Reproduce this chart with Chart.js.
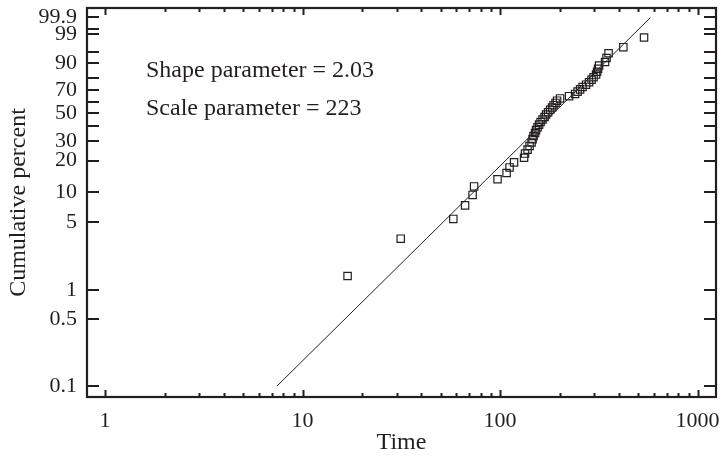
<!DOCTYPE html>
<html><head><meta charset="utf-8">
<script src="https://cdn.jsdelivr.net/npm/chart.js@4/dist/chart.umd.min.js"></script>
<style>html,body{margin:0;padding:0;background:#fff}canvas{display:block}</style>
</head><body>
<canvas id="c" width="723" height="457"></canvas>
<script>
// ---- data ----
const failureTimes = [16.9, 31.4, 58.0, 66.5, 72.6, 73.9, 97.1, 107.9, 111.7, 117.7,
  132.3, 133.8, 137.8, 141.1, 144.4, 146.1, 147.8, 150.4, 152.2, 154.8,
  157.6, 160.4, 164.1, 168.0, 171.0, 175.0, 179.2, 183.4, 186.6, 191.0,
  194.4, 201.3, 223.6, 239.8, 246.9, 254.2, 261.7, 272.6, 282.2, 290.6,
  297.5, 306.3, 309.9, 313.5, 317.2, 340.1, 346.1, 354.3, 421.0, 535.9];
const cumulativePercent = [1.39, 3.37, 5.36, 7.34, 9.33, 11.31, 13.29, 15.28, 17.26, 19.25,
  21.23, 23.21, 25.20, 27.18, 29.17, 31.15, 33.13, 35.12, 37.10, 39.09,
  41.07, 43.06, 45.04, 47.02, 49.01, 50.99, 52.98, 54.96, 56.94, 58.93,
  60.91, 62.90, 64.88, 66.87, 68.85, 70.83, 72.82, 74.80, 76.79, 78.77,
  80.75, 82.74, 84.72, 86.71, 88.69, 90.67, 92.66, 94.64, 96.63, 98.61];
const fitLineTime = [7.42, 578];
const fitLinePercent = [0.1, 99.9];
const xTickValues = [1, 10, 100, 1000];
const xTickLabels = ['1', '10', '100', '1000'];
const yTickPercents = [0.1, 0.5, 1, 5, 10, 20, 30, 40, 50, 60, 70, 80, 90, 95, 99, 99.5, 99.9];
const yTickLabels = ['0.1', '0.5', '1', '5', '10', '20', '30', '', '50', '', '70', '', '90', '', '99', '', '99.9'];
const annotationLines = ['Shape parameter = 2.03', 'Scale parameter = 223'];
const xTitle = 'Time';
const yTitle = 'Cumulative percent';

// ---- Weibull probability transform ----
const wb = p => Math.log(-Math.log(1 - p / 100));
const ink = '#231f20';
const serif = "'Liberation Serif', 'Times New Roman', serif";
Chart.defaults.font.family = serif;
Chart.defaults.color = ink;

const points = failureTimes.map((t, i) => ({x: t, y: wb(cumulativePercent[i])}));
const fitLine = fitLineTime.map((t, i) => ({x: t, y: wb(fitLinePercent[i])}));

const frame = {
  id: 'frame',
  afterDraw(chart) {
    const {ctx, chartArea: a, scales: {x, y}} = chart;
    ctx.save();
    ctx.strokeStyle = ink;
    ctx.lineWidth = 2;
    ctx.beginPath();
    yTickPercents.forEach(p => {
      const py = Math.round(y.getPixelForValue(wb(p)));
      ctx.moveTo(a.left, py); ctx.lineTo(a.left + 12, py);
      ctx.moveTo(a.right, py); ctx.lineTo(a.right - 12, py);
    });
    [1, 10, 100].forEach(d => {
      for (let k = 1; k <= 9; k++) {
        const px = Math.round(x.getPixelForValue(k * d)) + 0.5;
        const len = k === 1 ? 7 : 4;
        ctx.moveTo(px, a.bottom); ctx.lineTo(px, a.bottom - len);
        ctx.moveTo(px, a.top); ctx.lineTo(px, a.top + len);
      }
    });
    const p1000 = Math.round(x.getPixelForValue(1000)) + 0.5;
    ctx.moveTo(p1000, a.bottom); ctx.lineTo(p1000, a.bottom - 7);
    ctx.moveTo(p1000, a.top); ctx.lineTo(p1000, a.top + 7);
    ctx.stroke();
    ctx.lineWidth = 2.2;
    ctx.strokeRect(a.left, a.top, a.right - a.left, a.bottom - a.top);
    ctx.fillStyle = ink;
    ctx.font = '24px ' + serif;
    ctx.textBaseline = 'alphabetic';
    ctx.fillText(annotationLines[0], a.left + 59, a.top + 69);
    ctx.fillText(annotationLines[1], a.left + 59, a.top + 107);
    ctx.restore();
  }
};

new Chart(document.getElementById('c'), {
  type: 'scatter',
  data: {
    datasets: [
      {
        type: 'line', data: fitLine, borderColor: ink, borderWidth: 1,
        pointRadius: 0, fill: false, tension: 0
      },
      {
        data: points, pointStyle: 'rect', pointRadius: 5.2,
        pointBorderColor: ink, pointBackgroundColor: 'rgba(0,0,0,0)', pointBorderWidth: 1.2
      }
    ]
  },
  options: {
    responsive: false,
    animation: false,
    devicePixelRatio: 1,
    layout: {padding: {left: 0, right: 7, top: 8, bottom: 0}},
    plugins: {legend: {display: false}, tooltip: {enabled: false}},
    scales: {
      x: {
        type: 'logarithmic', min: 0.81, max: 1240,
        grid: {display: false, drawTicks: false},
        border: {display: false},
        afterBuildTicks: s => { s.ticks = xTickValues.map(v => ({value: v})); },
        afterFit: s => { s.height = 60; s.paddingLeft = 0; s.paddingRight = 0; },
        ticks: {
          autoSkip: false, maxRotation: 0, padding: 11,
          font: {size: 22, family: serif}, color: ink,
          callback: (v) => xTickLabels[xTickValues.indexOf(v)] ?? ''
        },
        title: {display: true, text: xTitle, font: {size: 24, family: serif}, color: ink, padding: {top: 0, bottom: 0}}
      },
      y: {
        type: 'linear', min: -7.17, max: 2.16,
        grid: {display: false, drawTicks: false},
        border: {display: false},
        afterBuildTicks: s => { s.ticks = yTickPercents.map(p => ({value: wb(p)})); },
        afterFit: s => { s.width = 87; s.paddingTop = 0; s.paddingBottom = 0; },
        ticks: {
          autoSkip: false, padding: 10,
          font: {size: 22, family: serif}, color: ink,
          callback: (v, i) => yTickLabels[i]
        },
        title: {display: true, text: yTitle, font: {size: 24, family: serif}, color: ink, padding: {top: 4, bottom: 0}}
      }
    }
  },
  plugins: [frame]
});
</script>
</body></html>
